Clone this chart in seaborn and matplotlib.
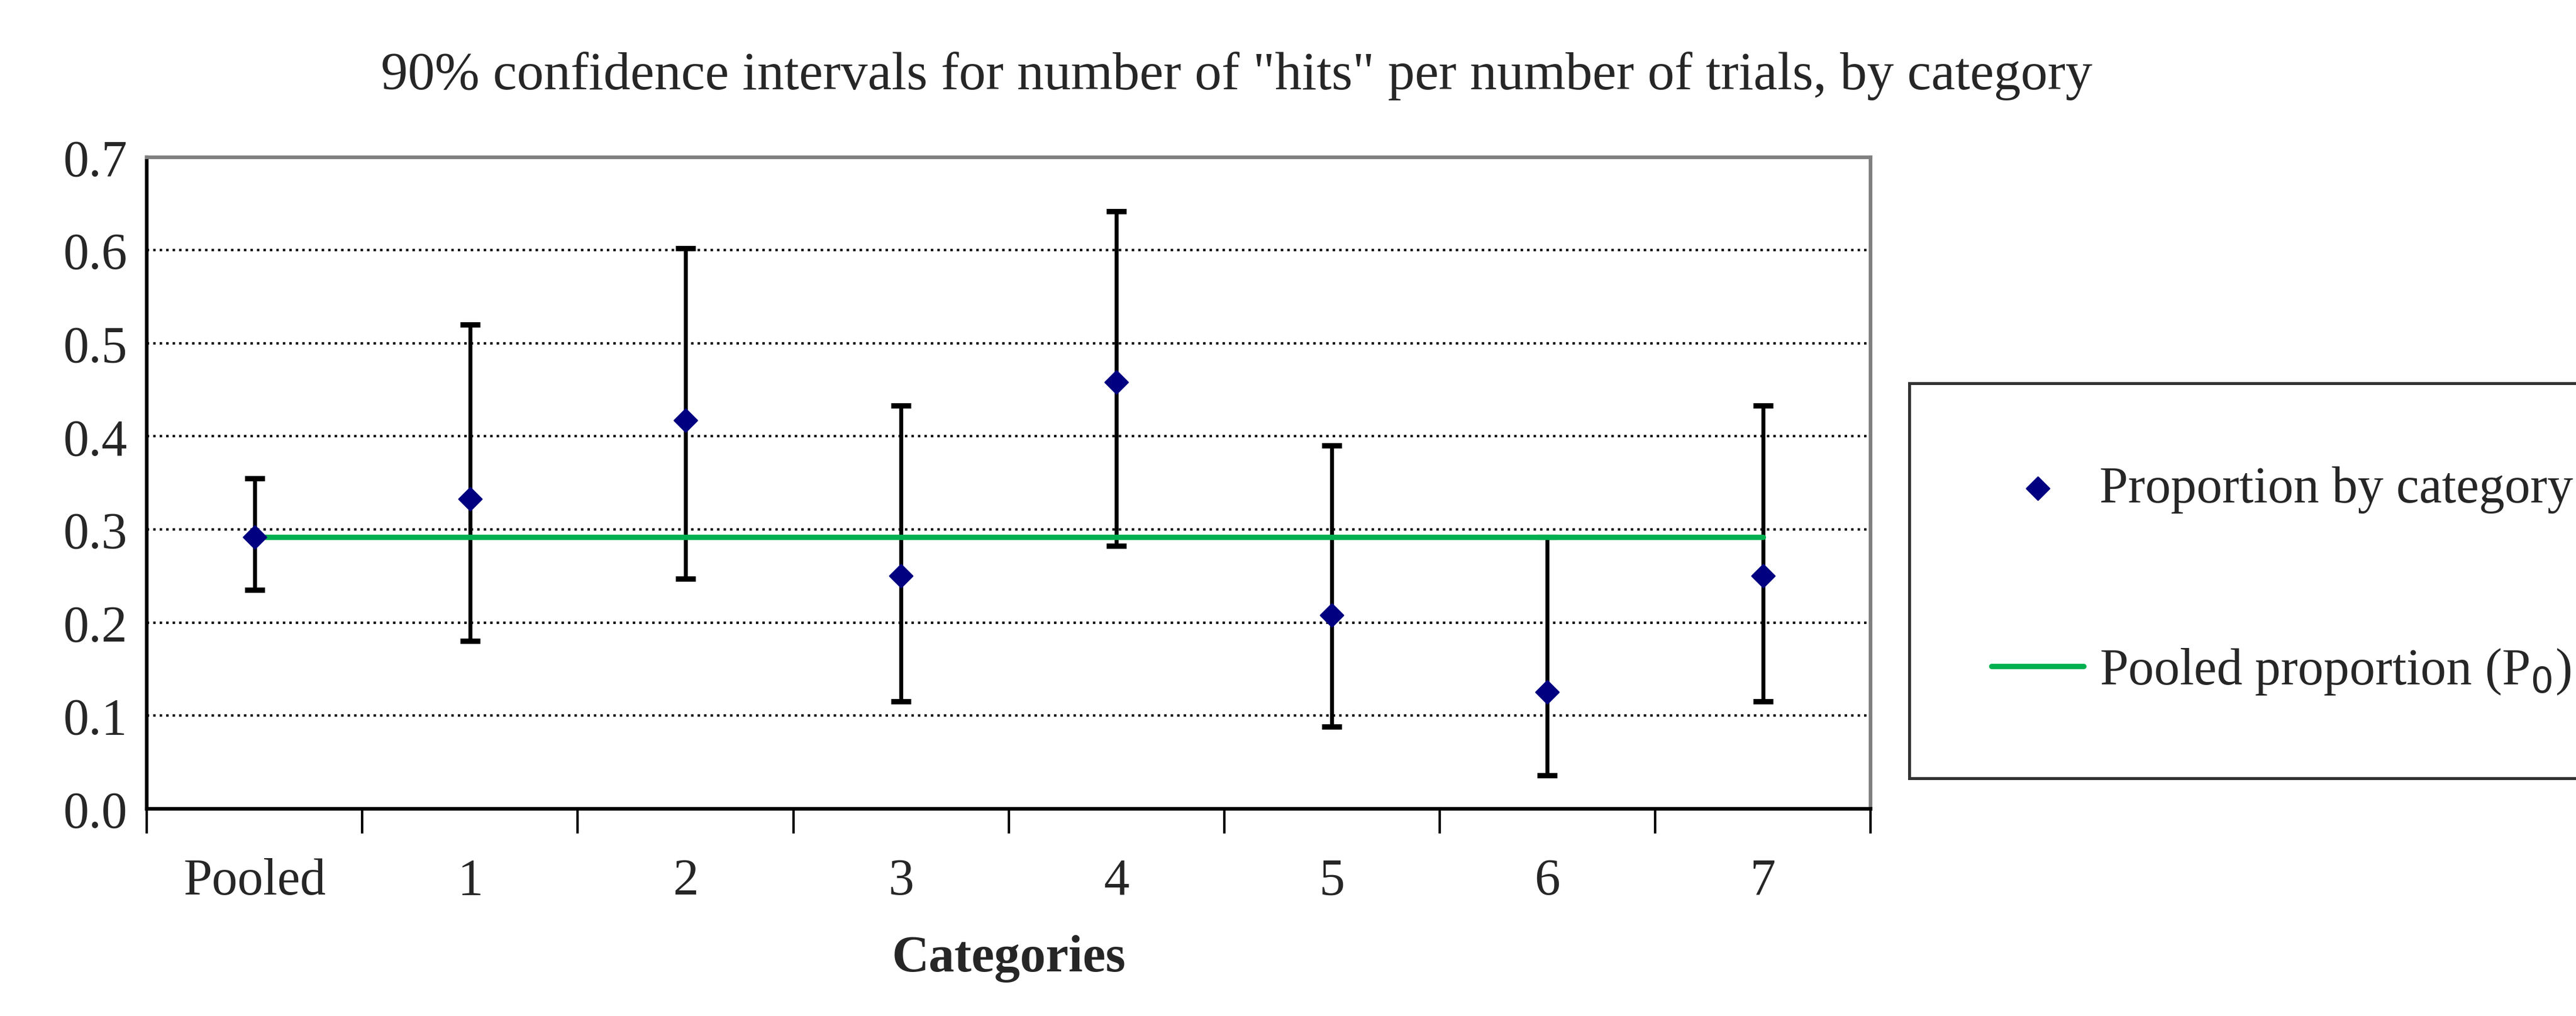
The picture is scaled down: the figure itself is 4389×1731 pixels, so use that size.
import numpy as np
import matplotlib
matplotlib.use('Agg')
import matplotlib.pyplot as plt
import seaborn as sns
import pandas as pd

# data
categories = ['Pooled', '1', '2', '3', '4', '5', '6', '7']
proportion = [0.292, 0.333, 0.417, 0.250, 0.458, 0.208, 0.125, 0.250]
ci_low = [0.235, 0.180, 0.247, 0.115, 0.282, 0.088, 0.036, 0.115]
ci_high = [0.355, 0.520, 0.602, 0.433, 0.642, 0.390, 0.292, 0.433]
pooled_p = 0.292

sns.set_style('white')
plt.rcParams['font.family'] = ['Liberation Serif', 'DejaVu Serif']

df = pd.DataFrame({'cat': categories, 'p': proportion,
                   'lo': ci_low, 'hi': ci_high})
df['x'] = np.arange(len(categories)) + 0.5

fig = plt.figure(figsize=(14.633, 5.773), dpi=300)
ax = fig.add_axes([0.057, 0.204, 0.669, 0.641])

ax.errorbar(df['x'], df['p'],
            yerr=[df['p'] - df['lo'], df['hi'] - df['p']],
            fmt='none', ecolor='black', elinewidth=1.6, capsize=4, capthick=2.2, zorder=2)
sns.lineplot(x=[df['x'].iloc[0], df['x'].iloc[-1]], y=[pooled_p, pooled_p], ax=ax,
             color='#00b050', linewidth=2.2, label='Pooled proportion (P$_0$)', zorder=3)
sns.scatterplot(data=df, x='x', y='p', ax=ax, marker='D', s=45, color='#000080',
                edgecolor='#000080', label='Proportion by category (p)', zorder=4)

ax.set_xlim(0, 8)
ax.set_ylim(0, 0.7)
ax.set_yticks(np.arange(0, 0.71, 0.1))
ax.set_yticklabels([f'{v:.1f}' for v in np.arange(0, 0.71, 0.1)])
ax.set_xticks(np.arange(0, 9))
ax.set_xticklabels([])
ax.set_xticks(df['x'], minor=True)
ax.set_xticklabels(categories, minor=True)
ax.tick_params(axis='x', which='major', length=10, width=1, direction='out', bottom=True, color='black')
ax.tick_params(axis='x', which='minor', length=0, pad=20, labelsize=21)
ax.tick_params(axis='y', length=0, pad=8, labelsize=21)
ax.yaxis.grid(True, linestyle=':', color='black', linewidth=1)
ax.set_axisbelow(True)
for s in ['top', 'right']:
    ax.spines[s].set_color('#808080')
    ax.spines[s].set_linewidth(1.5)
for s in ['left', 'bottom']:
    ax.spines[s].set_color('black')
    ax.spines[s].set_linewidth(1.5)

ax.set_xlabel('Categories', fontsize=21, fontweight='bold', labelpad=12)
ax.set_ylabel('')
fig.text(0.48, 0.925, '90% confidence intervals for number of "hits" per number of trials, by category',
         ha='center', va='center', fontsize=22)

h, l = ax.get_legend_handles_labels()
leg = fig.legend(h[::-1], l[::-1], loc='center left', bbox_to_anchor=(0.731, 0.428),
                 fontsize=21, frameon=True, fancybox=False, edgecolor='black',
                 borderpad=1.6, labelspacing=2.6, handlelength=1.8, handletextpad=0.3)
leg.get_frame().set_linewidth(1.2)
ax.get_legend().remove() if ax.get_legend() else None

fig.savefig('out.png', dpi=300)
